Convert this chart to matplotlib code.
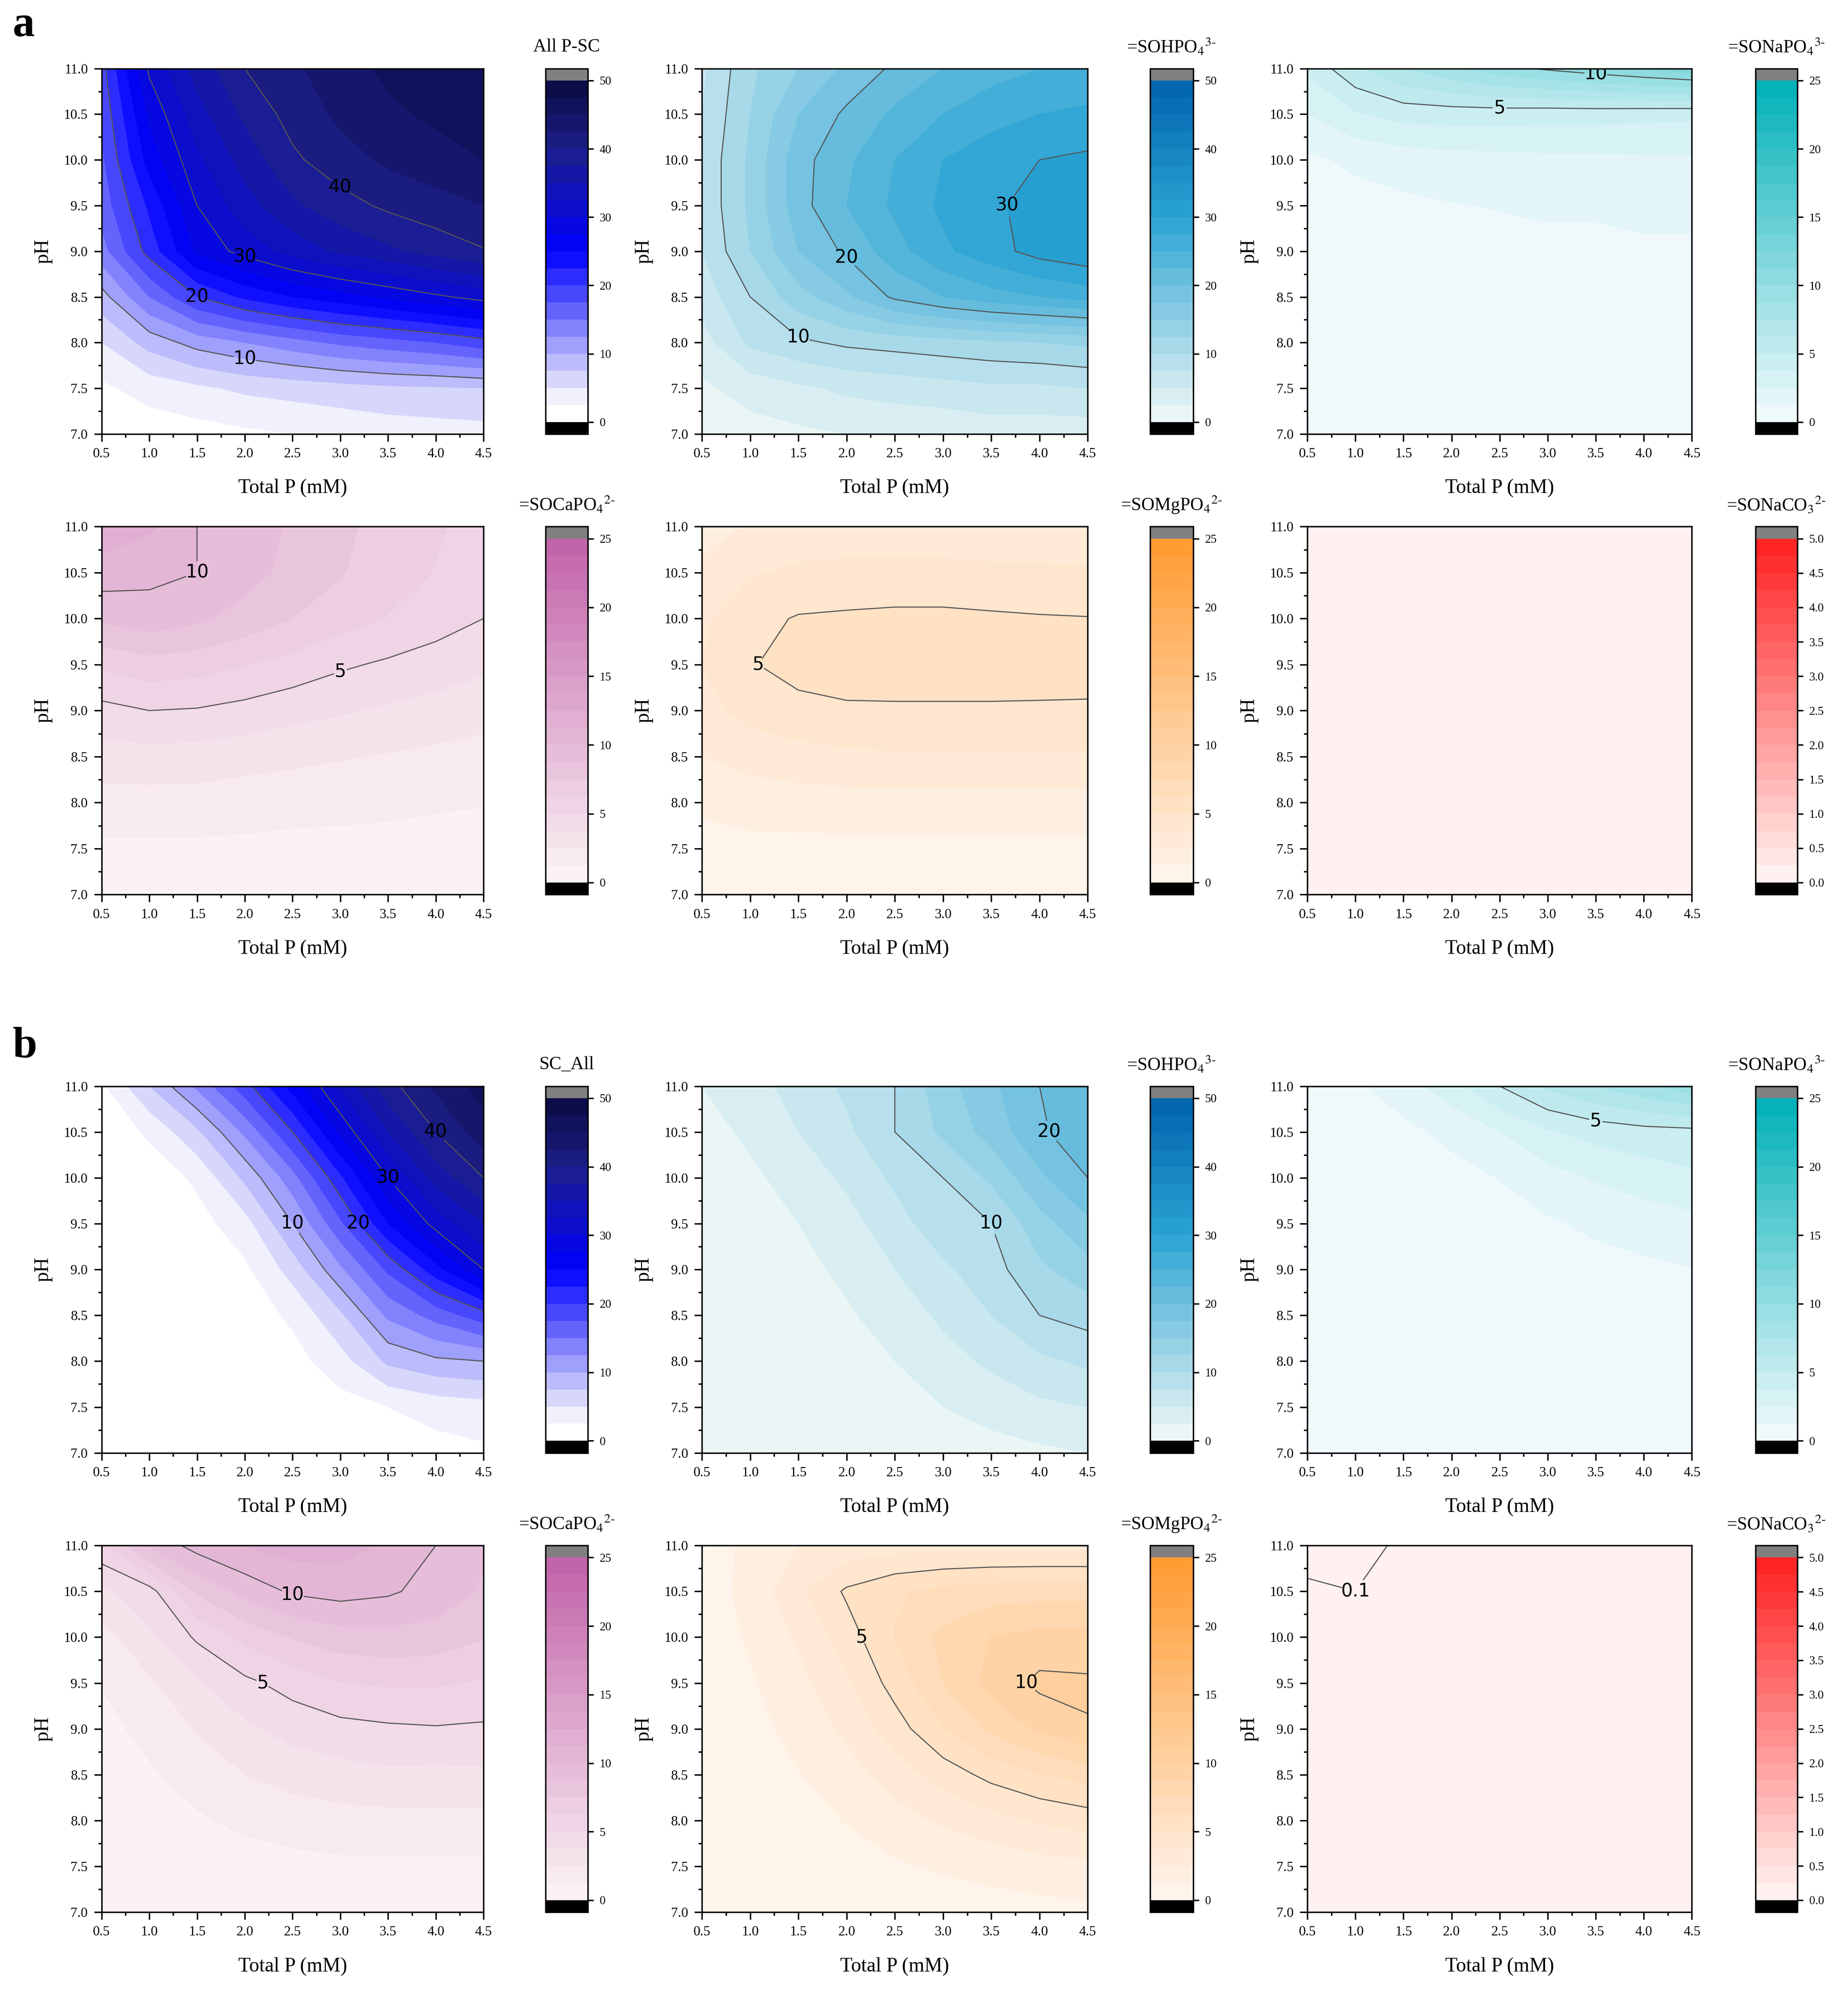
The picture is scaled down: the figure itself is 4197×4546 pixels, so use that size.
import numpy as np
import matplotlib
matplotlib.use('Agg')
import matplotlib.pyplot as plt
from matplotlib.colors import LinearSegmentedColormap
from matplotlib.ticker import MultipleLocator

plt.rcParams['font.family'] = 'Liberation Serif'
plt.rcParams['mathtext.fontset'] = 'stix'

total_p = [0.5, 1.0, 1.5, 2.0, 2.5, 3.0, 3.5, 4.0, 4.5]
ph = [7.0, 7.5, 8.0, 8.5, 9.0, 9.5, 10.0, 10.5, 11.0]

# rows = pH 7.0 -> 11.0, columns = Total P 0.5 -> 4.5
a_all = [
    [0.5, 1, 1.5, 2, 2.5, 3, 3.5, 3.8, 4],
    [2, 3.5, 4.5, 5.5, 6, 6.5, 7, 7.2, 7.5],
    [5, 8.5, 11, 12.5, 14, 15.5, 16.5, 17.5, 19],
    [9, 15, 20, 23, 25, 26.5, 28, 29.5, 31],
    [14, 21, 28, 31, 33.5, 35.5, 37, 38.5, 39.8],
    [16, 23, 30, 34, 37, 39, 40.5, 41.5, 42.5],
    [17, 26, 32, 36, 39.5, 41.5, 43, 44, 45],
    [18, 28, 34, 38, 41, 43, 44.5, 45.5, 46],
    [19, 30.5, 36, 40, 42, 44, 45.5, 46.5, 47],
]
a_hpo4 = [
    [1, 1.5, 2, 2.5, 3, 3, 3.5, 3.5, 3.5],
    [2, 3.5, 4.5, 5.5, 6, 6.5, 7, 7, 7.5],
    [4, 8, 9.5, 10.5, 11, 11.5, 12, 12.5, 13],
    [6, 10, 14, 17, 20.5, 22.5, 24, 25, 26],
    [7.5, 12.5, 17.5, 20.5, 24, 27, 29, 31, 32],
    [8, 13, 19, 22.5, 25.5, 28, 29.5, 31, 31.5],
    [8, 13, 19, 22, 25, 27.5, 29, 30, 30.5],
    [7.5, 12.5, 17.5, 20.5, 23, 25, 26.5, 27.5, 28],
    [7, 12, 15, 18, 20.5, 22.5, 24, 25, 25.5],
]
a_napo4 = [
    [0, 0, 0, 0, 0, 0, 0, 0, 0],
    [0, 0, 0, 0.1, 0.1, 0.1, 0.1, 0.1, 0.1],
    [0.1, 0.2, 0.2, 0.3, 0.3, 0.3, 0.3, 0.3, 0.3],
    [0.2, 0.3, 0.4, 0.5, 0.5, 0.6, 0.6, 0.6, 0.6],
    [0.3, 0.5, 0.6, 0.8, 0.9, 1.0, 1.0, 1.1, 1.1],
    [0.5, 0.8, 1.0, 1.2, 1.3, 1.4, 1.4, 1.5, 1.5],
    [1.0, 1.5, 1.8, 2.0, 2.1, 2.2, 2.2, 2.3, 2.3],
    [2.5, 3.6, 4.2, 4.3, 4.3, 4.2, 4.2, 4.1, 4.0],
    [4, 6, 7.5, 8.5, 9.5, 10.2, 10.8, 11.4, 12],
]
a_capo4 = [
    [0.5, 0.5, 0.5, 0.5, 0.5, 0.5, 0.5, 0.5, 0.5],
    [1, 1, 1, 1, 0.9, 0.9, 0.9, 0.8, 0.8],
    [2, 2, 2, 1.8, 1.7, 1.6, 1.5, 1.4, 1.3],
    [3.2, 3.3, 3.2, 3, 2.8, 2.6, 2.4, 2.2, 2],
    [4.6, 5, 4.9, 4.6, 4.2, 3.9, 3.6, 3.3, 3.0],
    [6.5, 7, 6.8, 6.3, 5.8, 5.2, 4.8, 4.4, 4.0],
    [9, 9.5, 9, 8.3, 7.5, 6.8, 6.2, 5.6, 5.0],
    [10.7, 10.3, 10, 9.2, 8.4, 7.6, 6.8, 6.2, 5.6],
    [12, 11.5, 10, 9.3, 8.6, 7.8, 7, 6.4, 5.8],
]
a_mgpo4 = [
    [0.3, 0.3, 0.3, 0.3, 0.3, 0.3, 0.3, 0.3, 0.3],
    [0.8, 0.9, 0.9, 0.9, 0.9, 0.9, 0.9, 0.9, 0.9],
    [1.5, 1.8, 1.9, 2, 2, 2, 2, 2, 2],
    [2.5, 3, 3.3, 3.5, 3.6, 3.6, 3.6, 3.6, 3.6],
    [3.3, 4.2, 4.6, 4.8, 4.8, 4.8, 4.8, 4.8, 4.8],
    [3.8, 4.9, 5.5, 5.7, 5.8, 5.8, 5.8, 5.7, 5.6],
    [3.5, 4.6, 5.1, 5.2, 5.3, 5.3, 5.2, 5.1, 5.05],
    [2.8, 3.6, 4, 4.1, 4.1, 4.1, 4, 4, 3.9],
    [2, 2.6, 2.9, 3, 3, 3, 2.9, 2.9, 2.8],
]
a_naco3 = [
    [0, 0, 0, 0, 0, 0, 0, 0, 0],
    [0, 0, 0, 0, 0, 0, 0, 0, 0],
    [0, 0, 0, 0, 0, 0, 0, 0, 0],
    [0.01, 0.01, 0.01, 0.01, 0.01, 0.01, 0.01, 0.01, 0.01],
    [0.01, 0.01, 0.01, 0.01, 0.01, 0.01, 0.01, 0.01, 0.01],
    [0.02, 0.02, 0.02, 0.02, 0.02, 0.02, 0.02, 0.02, 0.02],
    [0.03, 0.03, 0.03, 0.03, 0.03, 0.03, 0.03, 0.03, 0.03],
    [0.04, 0.04, 0.04, 0.04, 0.04, 0.04, 0.04, 0.04, 0.04],
    [0.05, 0.05, 0.05, 0.05, 0.05, 0.05, 0.05, 0.05, 0.05],
]
b_all = [
    [0, 0, 0, 0, 0, 0.5, 1, 1.5, 2],
    [0, 0, 0, 0, 0.5, 1.5, 2.5, 3.5, 4],
    [0, 0, 0, 0.5, 1.5, 4, 8, 9.5, 10],
    [0, 0, 0.2, 1, 3, 7, 13, 16, 19],
    [0, 0, 0.5, 2, 6, 12, 18, 24, 30],
    [0, 0.3, 1.5, 4, 10, 17, 25, 31, 35],
    [0, 0.8, 3, 8, 14, 22, 30, 36, 40],
    [0.3, 3, 7, 13, 20, 28, 35, 40, 44],
    [2, 7.5, 13, 19, 26, 33, 39, 43, 46],
]
b_hpo4 = [
    [0.5, 0.5, 0.5, 0.5, 0.8, 1, 1.5, 2, 2.5],
    [0.5, 0.5, 0.5, 0.8, 1.5, 2.5, 3.5, 4.5, 5],
    [0.5, 0.5, 0.8, 1.5, 2.5, 4, 5.5, 7, 8],
    [0.5, 0.8, 1.2, 2.2, 3.5, 5.5, 7.5, 10, 11],
    [0.6, 1, 1.8, 3, 5, 7, 9, 12, 14],
    [0.8, 1.5, 2.5, 4, 6.5, 9, 10, 14, 17],
    [1, 2, 3.5, 5.5, 8, 10, 13, 17, 20],
    [1.5, 3, 5, 7, 10, 13, 16, 19.5, 22],
    [2.5, 4, 6, 8, 10, 14, 17, 20, 22],
]
b_napo4 = [
    [0, 0, 0, 0, 0, 0, 0, 0, 0],
    [0, 0, 0, 0, 0, 0, 0, 0.1, 0.1],
    [0, 0, 0, 0, 0.1, 0.1, 0.2, 0.2, 0.3],
    [0, 0, 0, 0.1, 0.2, 0.3, 0.4, 0.5, 0.6],
    [0, 0, 0.1, 0.2, 0.4, 0.6, 0.8, 1, 1.2],
    [0, 0.1, 0.2, 0.4, 0.7, 1.1, 1.5, 1.8, 2.1],
    [0.1, 0.2, 0.4, 0.8, 1.3, 2, 2.6, 3.1, 3.5],
    [0.2, 0.5, 0.9, 1.6, 2.5, 3.6, 4.2, 4.5, 4.6],
    [0.4, 1, 2, 3.2, 5, 6.5, 7.5, 8.5, 9.5],
]
b_capo4 = [
    [0.2, 0.2, 0.3, 0.3, 0.3, 0.3, 0.3, 0.3, 0.3],
    [0.3, 0.4, 0.6, 0.8, 0.9, 1, 1, 1, 1],
    [0.4, 0.7, 1.1, 1.5, 1.8, 2, 2.1, 2.1, 2.1],
    [0.6, 1.1, 1.8, 2.5, 3, 3.3, 3.5, 3.5, 3.5],
    [0.9, 1.6, 2.6, 3.5, 4.2, 4.6, 4.8, 4.9, 4.8],
    [1.3, 2.3, 3.6, 4.7, 5.5, 6.2, 6.4, 6.4, 6.1],
    [2, 3.5, 5.2, 6.6, 7.6, 8.2, 8.4, 8.2, 7.6],
    [3.5, 4.5, 7.7, 9.2, 10.2, 10.5, 10.2, 9.5, 8.6],
    [6, 9, 10.5, 11.3, 11.8, 11.8, 11, 10, 9],
]
b_mgpo4 = [
    [0.2, 0.2, 0.3, 0.4, 0.5, 0.6, 0.7, 0.8, 0.9],
    [0.2, 0.3, 0.5, 0.8, 1.1, 1.4, 1.7, 2, 2.2],
    [0.3, 0.5, 0.8, 1.3, 2, 2.7, 3.3, 3.9, 4.3],
    [0.3, 0.7, 1.2, 2, 3.1, 4.3, 5.4, 6.2, 6.8],
    [0.4, 0.9, 1.6, 2.8, 4.4, 6.2, 7.8, 9, 9.9],
    [0.5, 1.1, 2.1, 3.6, 5.5, 7.5, 9.2, 10.3, 10.2],
    [0.6, 1.4, 2.7, 4.4, 6.3, 7.8, 8.8, 9.2, 9.2],
    [0.7, 1.6, 3.5, 5.2, 6.1, 6.6, 6.9, 7, 7],
    [0.7, 1.5, 2.5, 3, 3.2, 3.3, 3.3, 3.3, 3.3],
]
b_naco3 = [
    [0, 0, 0, 0, 0, 0, 0, 0, 0],
    [0, 0, 0, 0, 0, 0, 0, 0, 0],
    [0, 0, 0, 0, 0, 0, 0, 0, 0],
    [0.01, 0.01, 0.01, 0.01, 0.01, 0.01, 0.01, 0.01, 0.01],
    [0.02, 0.02, 0.01, 0.01, 0.01, 0.01, 0.01, 0.01, 0.01],
    [0.03, 0.03, 0.02, 0.02, 0.01, 0.01, 0.01, 0.01, 0.01],
    [0.05, 0.05, 0.03, 0.02, 0.02, 0.01, 0.01, 0.01, 0.01],
    [0.08, 0.1, 0.05, 0.03, 0.02, 0.02, 0.01, 0.01, 0.01],
    [0.15, 0.14, 0.08, 0.04, 0.03, 0.02, 0.02, 0.01, 0.01],
]

c_blue = LinearSegmentedColormap.from_list(
    'b', [(0, '#ffffff'), (0.04, '#ffffff'), (0.1, '#e6e6fb'), (0.5, '#0000ff'), (0.8, '#1c1f8a'), (1, '#0a0a40')])
c_sky = LinearSegmentedColormap.from_list('s', [(0, '#f2f9f6'), (0.6, '#2aa3d3'), (1, '#0063ad')])
c_teal = LinearSegmentedColormap.from_list('t', ['#f5fbfd', '#00b0b8'])
c_pink = LinearSegmentedColormap.from_list('p', ['#fdf6f6', '#c060a8'])
c_orange = LinearSegmentedColormap.from_list('o', ['#fff6ef', '#ff9a2e'])
c_red = LinearSegmentedColormap.from_list('r', ['#fff6f4', '#ff2020'])

# (data, title, cmap, vmax, contour line levels)
panels = [
    (a_all, 'All P-SC', c_blue, 50, [10, 20, 30, 40]),
    (a_hpo4, r'=SOHPO$_4$$^{3\text{-}}$', c_sky, 50, [10, 20, 30]),
    (a_napo4, r'=SONaPO$_4$$^{3\text{-}}$', c_teal, 25, [5, 10]),
    (a_capo4, r'=SOCaPO$_4$$^{2\text{-}}$', c_pink, 25, [5, 10]),
    (a_mgpo4, r'=SOMgPO$_4$$^{2\text{-}}$', c_orange, 25, [5]),
    (a_naco3, r'=SONaCO$_3$$^{2\text{-}}$', c_red, 5, [0.1]),
    (b_all, 'SC_All', c_blue, 50, [10, 20, 30, 40]),
    (b_hpo4, r'=SOHPO$_4$$^{3\text{-}}$', c_sky, 50, [10, 20]),
    (b_napo4, r'=SONaPO$_4$$^{3\text{-}}$', c_teal, 25, [5]),
    (b_capo4, r'=SOCaPO$_4$$^{2\text{-}}$', c_pink, 25, [5, 10]),
    (b_mgpo4, r'=SOMgPO$_4$$^{2\text{-}}$', c_orange, 25, [5, 10]),
    (b_naco3, r'=SONaCO$_3$$^{2\text{-}}$', c_red, 5, [0.1]),
]

W, H = 1456.0, 1577.0
col_x = [(80, 381, 430, 463), (553, 857, 906, 940), (1030, 1333, 1383, 1416)]
row_y = [(54, 342), (415, 705), (856, 1145), (1218, 1507)]

fig = plt.figure(figsize=(4197 / 300, 4546 / 300), dpi=300)
X, Y = np.meshgrid(total_p, ph)

for i, (data, title, cmap, vmax, lines) in enumerate(panels):
    r, c = divmod(i, 3)
    x0, x1, cx0, cx1 = col_x[c]
    y0, y1 = row_y[r]
    ax = fig.add_axes([x0 / W, 1 - y1 / H, (x1 - x0) / W, (y1 - y0) / H])
    cax = fig.add_axes([cx0 / W, 1 - y1 / H, (cx1 - cx0) / W, (y1 - y0) / H])
    Z = np.clip(np.array(data, dtype=float), 1e-4, None)
    levels = np.linspace(0, vmax, 21)
    cm = cmap.copy()
    cm.set_under('black')
    cm.set_over('#808080')
    cf = ax.contourf(X, Y, Z, levels=levels, cmap=cm, extend='both')
    cs = ax.contour(X, Y, Z, levels=lines, colors='#555555', linewidths=0.6)
    ax.clabel(cs, fmt=lambda v: ('%g' % v), fontsize=10, inline=True,
              colors='black')
    for t in cs.labelTexts:
        t.set_fontfamily('DejaVu Sans')
        t.set_rotation(0)
    ax.set_xlim(0.5, 4.5)
    ax.set_ylim(7.0, 11.0)
    ax.xaxis.set_major_locator(MultipleLocator(0.5))
    ax.xaxis.set_minor_locator(MultipleLocator(0.25))
    ax.yaxis.set_major_locator(MultipleLocator(0.5))
    ax.yaxis.set_minor_locator(MultipleLocator(0.25))
    ax.xaxis.set_major_formatter(plt.FormatStrFormatter('%.1f'))
    ax.yaxis.set_major_formatter(plt.FormatStrFormatter('%.1f'))
    ax.tick_params(which='both', direction='out', labelsize=7.5, width=0.8)
    ax.tick_params(which='major', length=4)
    ax.tick_params(which='minor', length=2)
    ax.set_xlabel('Total P (mM)', fontsize=11, labelpad=10)
    ax.set_ylabel('pH', fontsize=11, labelpad=6)
    cb = fig.colorbar(cf, cax=cax, extend='both', extendrect=True, extendfrac=0.035,
                      ticks=np.linspace(0, vmax, 6) if vmax != 5 else np.arange(0, 5.01, 0.5))
    if vmax == 5:
        cb.ax.set_yticklabels(['%.1f' % v for v in np.arange(0, 5.01, 0.5)])
    cb.ax.tick_params(labelsize=6.5, length=3, width=0.8)
    cb.outline.set_linewidth(0.8)
    fig.text((cx0 + cx1) / 2 / W, 1 - (y0 - 17) / H, title, fontsize=10,
             ha='center', va='center')

fig.text(10 / W, 1 - 20 / H, 'a', fontsize=24, fontweight='bold', va='center')
fig.text(10 / W, 1 - 825 / H, 'b', fontsize=24, fontweight='bold', va='center')

fig.savefig('out.png', dpi=300)
